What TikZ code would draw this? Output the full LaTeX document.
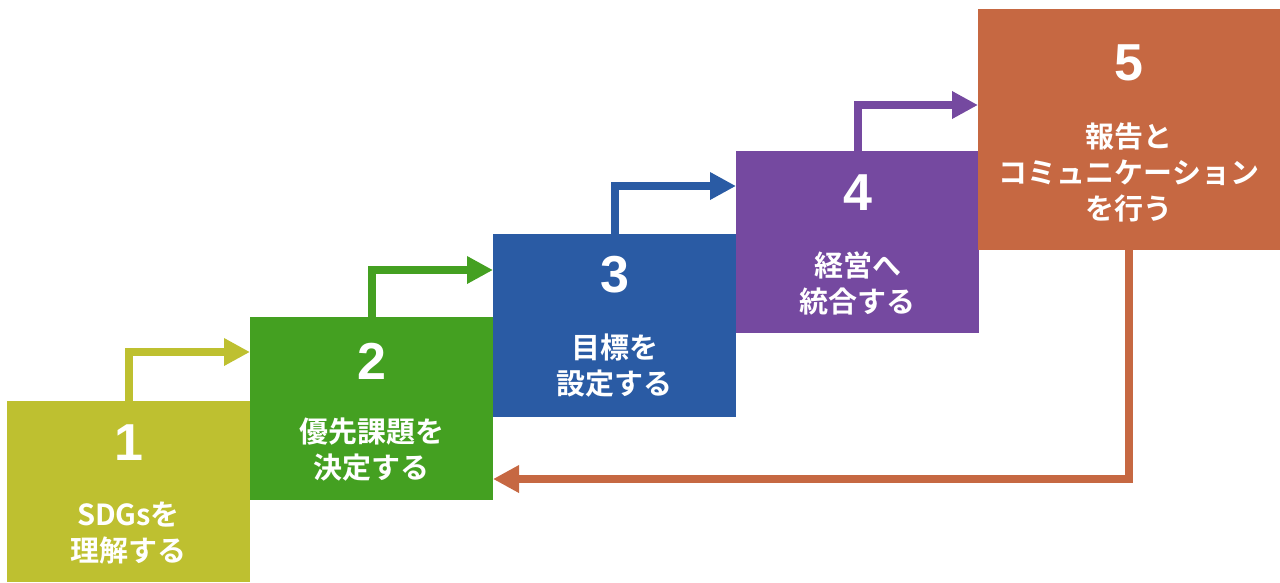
\documentclass[tikz,border=0pt]{standalone}
\usepackage{fontspec}
\newfontfamily\jp{Noto Sans CJK JP}[BoldFont={Noto Sans CJK JP Bold}]
\newfontfamily\numf{Liberation Sans}
\usetikzlibrary{arrows.meta,calc}
\definecolor{cA}{HTML}{BEC030}
\definecolor{cB}{HTML}{44A021}
\definecolor{cC}{HTML}{2A5BA4}
\definecolor{cD}{HTML}{7549A0}
\definecolor{cE}{HTML}{C66842}
\begin{document}
\begin{tikzpicture}[x=1pt,y=-1pt,
  stepbox/.style={draw=none,inner sep=0pt,outer sep=0pt,anchor=north west},
  num/.style={text=white,font=\numf\bfseries\fontsize{52}{52}\selectfont,inner sep=0pt},
  lbl/.style={text=white,font=\jp\bfseries\fontsize{29}{36}\selectfont,align=center,inner sep=0pt},
  arr/.style={line width=8pt,-{Triangle[length=26pt,width=26pt]}}]
\useasboundingbox (0,0) rectangle (1280,582);
% boxes
\node[stepbox,fill=cA,minimum width=243pt,minimum height=181pt] (b1) at (7,401) {};
\node[stepbox,fill=cB,minimum width=243pt,minimum height=183pt] (b2) at (250,317) {};
\node[stepbox,fill=cC,minimum width=243pt,minimum height=183pt] (b3) at (493,234) {};
\node[stepbox,fill=cD,minimum width=243pt,minimum height=182pt] (b4) at (736,151) {};
\node[stepbox,fill=cE,minimum width=302pt,minimum height=241pt] (b5) at (978,9) {};
% numbers
\node[num] (n1) at ($(b1.north)+(0,42)$) {1};
\node[num] (n2) at ($(b2.north)+(0,44)$) {2};
\node[num] (n3) at ($(b3.north)+(0,41)$) {3};
\node[num] (n4) at ($(b4.north)+(0,42)$) {4};
\node[num] (n5) at ($(b5.north)+(0,54)$) {5};
% labels
\node[lbl] (t1) at ($(b1.north)+(0,132)$) {SDGsを\\理解する};
\node[lbl] (t2) at ($(b2.north)+(0,133)$) {優先課題を\\決定する};
\node[lbl] (t3) at ($(b3.north)+(0,132)$) {目標を\\設定する};
\node[lbl] (t4) at ($(b4.north)+(0,132)$) {経営へ\\統合する};
\node[lbl] (t5) at ($(b5.north)+(0,163)$) {報告と\\コミュニケーション\\を行う};
% arrows
\draw[arr,cA] (b1.north) -- ++(0,-49) coordinate (k1) -- (k1 -| b2.west);
\draw[arr,cB] (b2.north) -- ++(0,-47) coordinate (k2) -- (k2 -| b3.west);
\draw[arr,cC] (b3.north) -- ++(0,-48) coordinate (k3) -- (k3 -| b4.west);
\draw[arr,cD] (b4.north) -- ++(0,-46) coordinate (k4) -- (k4 -| b5.west);
\draw[arr,cE] (b5.south) -- ++(0,229) coordinate (k5) -- (k5 -| b2.east);
\end{tikzpicture}
\end{document}
